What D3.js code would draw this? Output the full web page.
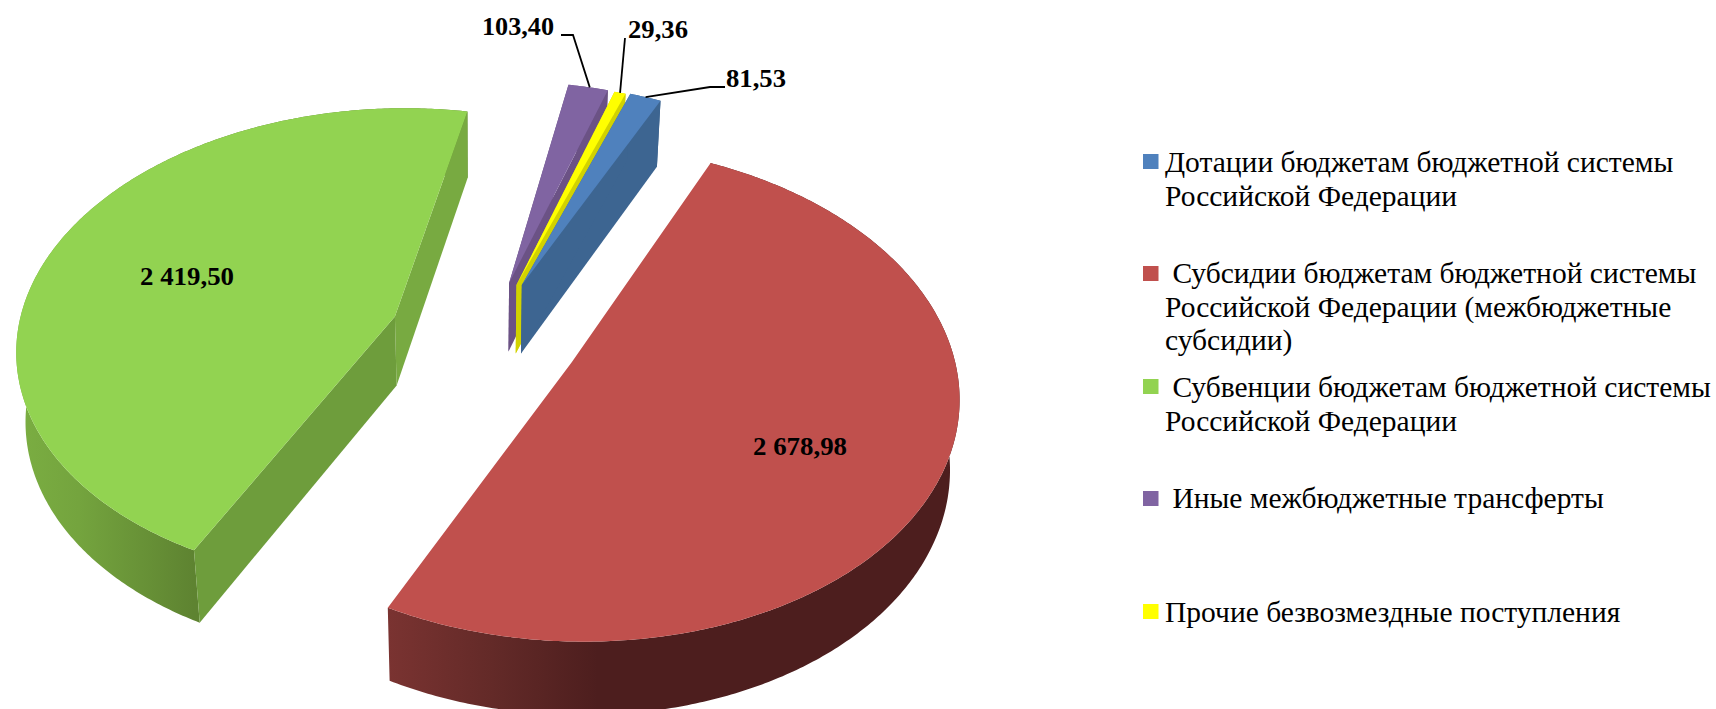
<!DOCTYPE html>
<html>
<head>
<meta charset="utf-8">
<script src="https://cdn.jsdelivr.net/npm/d3@7"></script>
<style>
  body { margin: 0; background: #fff; }
  text { font-family: "Liberation Serif", serif; fill: #000; }
</style>
</head>
<body>
<svg width="1716" height="709"></svg>
<script>
var categories = ["Дотации", "Субсидии", "Субвенции", "Иные", "Прочие"];
var values = [81.53, 2678.98, 2419.50, 103.40, 29.36];
var valueLabels = ["81,53", "2 678,98", "2 419,50", "103,40", "29,36"];
var legendLines = [
  ["Дотации бюджетам бюджетной системы", "Российской Федерации"],
  [" Субсидии бюджетам бюджетной системы", "Российской Федерации (межбюджетные", "субсидии)"],
  [" Субвенции бюджетам бюджетной системы", "Российской Федерации"],
  [" Иные межбюджетные трансферты"],
  ["Прочие безвозмездные поступления"]
];
var topColors = ["#4f81bd", "#c0504d", "#92d351", "#8064a2", "#ffff00"];
var wallColors = ["#3d6591", "#7a3331", "#6e9d3c", "#6b5285", "#d2d200"];
var wallColorsEnd = ["#3d6591", "#7a3331", "#78aa41", "#6b5285", "#d2d200"];

// explosion of each slice on the disc plane, in radii
var shiftX = [0.0946, 0.2216, -0.246, 0.0601, 0.08];
var shiftY = [0.152, -0.175, 0.015, 0.1607, 0.152];
var radiusScale = [1, 1, 1, 1, 1];
// the red slice's cut faces turn away from the viewer
var showCuts = [true, false, true, true, true];

var svg = d3.select("svg");

// perspective of the disc plane
var cx = 487, cy = 320, fx = 375, fy = 234.5, persp = 0.122;
function project(X, Y) {
  var den = 1 + persp * Y;
  return [cx + fx * X / den, cy - fy * Y / den];
}
function drop(p) {
  return [480 + (p[0] - 480) * 0.98, p[1] + 66 + (p[1] - 100) * 0.014];
}

var rotation = 19.8 * Math.PI / 180;
var pie = d3.pie().value(function(d) { return d; }).sort(null)
    .startAngle(rotation).endAngle(rotation + 2 * Math.PI);
var arcs = pie(values);
var line = d3.line();

var slices = arcs.map(function(a, i) {
  var n = Math.max(4, Math.ceil((a.endAngle - a.startAngle) / 0.01));
  var r = radiusScale[i];
  var rim = d3.range(n + 1).map(function(j) {
    var t = a.startAngle + (a.endAngle - a.startAngle) * j / n;
    return project(shiftX[i] + r * Math.sin(t), shiftY[i] + r * Math.cos(t));
  });
  return { i: i, apex: project(shiftX[i], shiftY[i]), rim: rim };
});

var defs = svg.append("defs");
function rimGradient(id, x1, x2, stops) {
  var g = defs.append("linearGradient").attr("id", id)
      .attr("gradientUnits", "userSpaceOnUse")
      .attr("x1", x1).attr("x2", x2).attr("y1", 0).attr("y2", 0);
  stops.forEach(function(s) {
    g.append("stop").attr("offset", s[0]).attr("stop-color", s[1]);
  });
}
var redRim = slices[1].rim, greenRim = slices[2].rim;
rimGradient("rim1", redRim[redRim.length - 1][0], redRim[redRim.length - 1][0] + 210,
  [[0, "#7a3331"], [0.5, "#632a28"], [1, "#4d1e1e"]]);
rimGradient("rim2", d3.min(greenRim, function(d) { return d[0]; }), greenRim[0][0],
  [[0, "#7bae42"], [0.35, "#74a43e"], [1, "#5e8331"]]);

// back to front: outer wall, cut walls, then the top
[2, 3, 4, 0, 1].forEach(function(i) {
  var s = slices[i], g = svg.append("g");
  var first = s.rim[0], last = s.rim[s.rim.length - 1];
  g.append("path")
      .attr("d", line(s.rim.concat(s.rim.map(drop).reverse())) + "Z")
      .attr("fill", i == 1 ? "url(#rim1)" : i == 2 ? "url(#rim2)" : wallColors[i]);
  if (showCuts[i]) {
    g.append("path")
        .attr("d", line([s.apex, last, drop(last), drop(s.apex)]) + "Z")
        .attr("fill", wallColorsEnd[i]);
    g.append("path")
        .attr("d", line([s.apex, first, drop(first), drop(s.apex)]) + "Z")
        .attr("fill", wallColors[i]);
  }
  g.append("path")
      .attr("d", line([s.apex].concat(s.rim)) + "Z")
      .attr("fill", topColors[i]);
});

// leader lines go from the middle of the rim to the label
function rimMid(i) { var r = slices[i].rim; return r[Math.floor(r.length / 2)]; }
var leaders = [
  { i: 3, path: [[561, 35], [573, 35]] },
  { i: 4, path: [[625, 38]] },
  { i: 0, path: [[725, 87], [710, 87]] }
];
svg.selectAll("path.leader").data(leaders).enter().append("path")
    .attr("class", "leader")
    .attr("fill", "none").attr("stroke", "#000").attr("stroke-width", 1.8)
    .attr("d", function(d) { return line(d.path.concat([rimMid(d.i)])); });

var labelPos = [[726, 87, 60], [753, 455, 94], [140, 285, 94], [482, 35, 72], [628, 38, 60]];
svg.selectAll("text.value").data(valueLabels).enter().append("text")
    .attr("class", "value")
    .attr("x", function(d, i) { return labelPos[i][0]; })
    .attr("y", function(d, i) { return labelPos[i][1]; })
    .attr("textLength", function(d, i) { return labelPos[i][2]; })
    .attr("lengthAdjust", "spacingAndGlyphs")
    .attr("font-size", 26).attr("font-weight", "bold")
    .text(function(d) { return d; });

// legend
var legendSwatchY = [154, 266, 379, 491, 604];
var legendBaseY = [172, 283, 397, 508, 622];
var legend = svg.selectAll("g.legend").data(legendLines).enter().append("g").attr("class", "legend");
legend.append("rect")
    .attr("x", 1143).attr("width", 15.5).attr("height", 15)
    .attr("y", function(d, i) { return legendSwatchY[i]; })
    .attr("fill", function(d, i) { return topColors[i]; });
legend.each(function(lines, i) {
  d3.select(this).selectAll("text").data(lines).enter().append("text")
      .attr("x", 1165)
      .attr("y", function(d, j) { return legendBaseY[i] + j * 33.7; })
      .attr("font-size", 29.5)
      .attr("xml:space", "preserve")
      .style("white-space", "pre")
      .text(function(d) { return d; });
});
</script>
</body>
</html>
